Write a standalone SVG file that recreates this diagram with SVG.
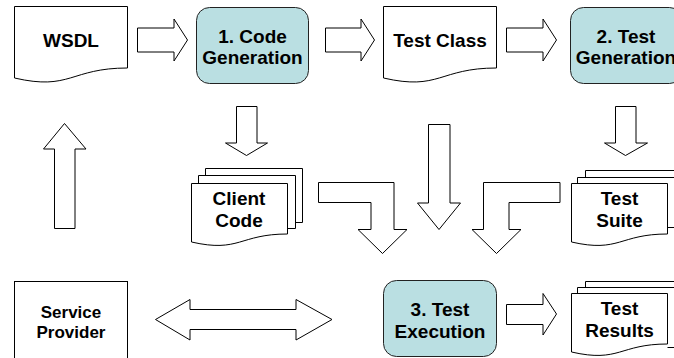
<svg xmlns="http://www.w3.org/2000/svg" width="674" height="358" viewBox="0 0 674 358">
  <style>
    .shape { fill: #ffffff; stroke: #000000; stroke-width: 1; }
    .proc { fill: #badfe2; stroke: #222222; stroke-width: 1; }
    .arrow { fill: #ffffff; stroke: #000000; stroke-width: 1; stroke-linejoin: miter; }
    text { font-family: "Liberation Sans", Arial, sans-serif; font-weight: bold; font-size: 19px; fill: #000000; text-anchor: middle; }
    .small { font-size: 17px; }
  </style>
  <rect width="674" height="358" fill="#ffffff"/>

  <!-- connectors: block arrows -->
  <g id="connectors">
    <!-- WSDL -> Code Generation -->
    <path class="arrow" d="M137.5,28 H174 V19 L187.5,40 L174,61 V52 H137.5 Z"/>
    <!-- Code Generation -> Test Class -->
    <path class="arrow" d="M325.5,28 H361 V19 L374.5,40 L361,61 V52 H325.5 Z"/>
    <!-- Test Class -> Test Generation -->
    <path class="arrow" d="M506.5,28 H543 V19 L556.5,40 L543,61 V52 H506.5 Z"/>
    <!-- Code Generation -> Client Code -->
    <path class="arrow" d="M236.5,106.5 H257 V143 H267.5 L246.5,155.5 L225.5,143 H236.5 Z"/>
    <!-- Test Generation -> Test Suite -->
    <path class="arrow" d="M615.5,106.5 H636 V143 H647.5 L625.5,155.5 L604.5,143 H615.5 Z"/>
    <!-- Test Class -> Test Execution -->
    <path class="arrow" d="M428.5,124.5 H450 V203 H460.5 L439,229.5 L417.5,203 H428.5 Z"/>
    <!-- Service Provider -> WSDL -->
    <path class="arrow" d="M54.5,228.5 V149 H43.5 L64.5,123.5 L86,149 H75 V228.5 Z"/>
    <!-- Client Code -> Test Execution -->
    <path class="arrow" d="M318.5,182.5 H394 V229.5 H407 L382.5,253.5 L358,229.5 H371 V202.5 H318.5 Z"/>
    <!-- Test Suite -> Test Execution -->
    <path class="arrow" d="M560,182.5 H483.5 V229.5 H472 L496.5,253.5 L521,229.5 H509 V202.5 H560 Z"/>
    <!-- Service Provider <-> tests -->
    <path class="arrow" d="M155.5,319.5 L190,299.5 V309.5 H296 V299.5 L332,319.5 L296,340 V329.5 H190 V340 Z"/>
    <!-- Test Execution -> Test Results -->
    <path class="arrow" d="M506.5,304.5 H543 V293.5 L556.5,314 L543,335 V324.5 H506.5 Z"/>
  </g>

  <!-- documents -->
  <g id="wsdl">
    <path class="shape" d="M14.5,6.5 H127.5 V68 C70.5,68 70.5,91 14.5,78 Z"/>
    <text x="71" y="47">WSDL</text>
  </g>

  <g id="test-class">
    <path class="shape" d="M383.5,6.5 H496.5 V68 C439.5,68 439.5,91 383.5,78 Z"/>
    <text x="440" y="47">Test Class</text>
  </g>

  <!-- process steps -->
  <g id="code-generation">
    <rect class="proc" x="196.5" y="7.5" width="112" height="76" rx="13" ry="13"/>
    <text x="252.5" y="43">1. Code</text>
    <text x="252.5" y="64">Generation</text>
  </g>

  <g id="test-generation">
    <rect class="proc" x="570.5" y="7.5" width="112" height="76" rx="13" ry="13"/>
    <text x="626" y="43">2. Test</text>
    <text x="626" y="64">Generation</text>
  </g>

  <g id="test-execution">
    <rect class="proc" x="383.5" y="280.5" width="113" height="76" rx="13" ry="13"/>
    <text x="440" y="316">3. Test</text>
    <text x="440" y="338">Execution</text>
  </g>

  <!-- multi-page documents -->
  <g id="client-code">
    <path class="shape" d="M205.5,175.5 V168.5 H302.5 V222.5 H295.5"/>
    <path class="shape" d="M198.5,183.5 V175.5 H295.5 V228.5 H287.5"/>
    <path class="shape" d="M191.5,183.5 H287.5 V234 C239.5,234 239.5,253 191.5,242 Z"/>
    <text x="239" y="205">Client</text>
    <text x="239" y="227">Code</text>
  </g>

  <g id="test-suite">
    <path class="shape" d="M585.5,177.5 V170.5 H682.5 V222.5 H675.5"/>
    <path class="shape" d="M577.5,183.5 V177.5 H675.5 V227.5 H667.5"/>
    <path class="shape" d="M571.5,183.5 H667.5 V234 C619.5,234 619.5,253 571.5,242 Z"/>
    <text x="619.5" y="205">Test</text>
    <text x="619.5" y="227">Suite</text>
  </g>

  <g id="test-results">
    <path class="shape" d="M585.5,287.5 V281.5 H682.5 V341.5 H675.5"/>
    <path class="shape" d="M577.5,293.5 V287.5 H675.5 V347.5 H667.5"/>
    <path class="shape" d="M571.5,293.5 H667.5 V344 C619.5,344 619.5,363 571.5,352 Z"/>
    <text x="619.5" y="315">Test</text>
    <text x="619.5" y="337">Results</text>
  </g>

  <g id="service-provider">
    <rect class="shape" x="14.5" y="281.5" width="113" height="90"/>
    <text class="small" x="71" y="318">Service</text>
    <text class="small" x="71" y="338">Provider</text>
  </g>
</svg>
